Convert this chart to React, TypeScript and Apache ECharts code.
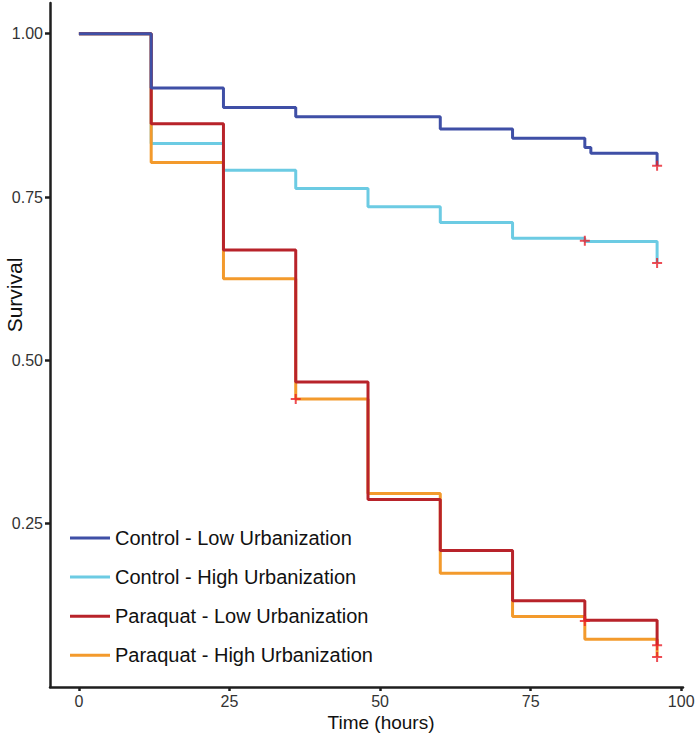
import React, { useEffect, useRef } from "react";
import * as echarts from "echarts";

const seriesNames = [
  "Control - Low Urbanization",
  "Control - High Urbanization",
  "Paraquat - Low Urbanization",
  "Paraquat - High Urbanization",
];

const controlLow = [
  [0, 1.0], [12, 0.917], [24, 0.887], [36, 0.873], [60, 0.854],
  [72, 0.84], [84, 0.826], [85, 0.817], [96, 0.798],
];
const controlHigh = [
  [0, 1.0], [12, 0.832], [24, 0.791], [36, 0.763], [48, 0.735],
  [60, 0.711], [72, 0.687], [84, 0.682], [96, 0.649],
];
const paraquatLow = [
  [0, 1.0], [12, 0.862], [24, 0.669], [36, 0.467], [48, 0.287],
  [60, 0.209], [72, 0.132], [84, 0.102], [96, 0.064],
];
const paraquatHigh = [
  [0, 1.0], [12, 0.803], [24, 0.625], [36, 0.441], [48, 0.296],
  [60, 0.174], [72, 0.108], [84, 0.073], [96, 0.046],
];
const censored = [
  [96, 0.798], [84, 0.683], [96, 0.649], [36, 0.441],
  [84, 0.101], [96, 0.064], [96, 0.046],
];

const xTicks = [0, 25, 50, 75, 100];
const yTicks = [0.25, 0.5, 0.75, 1.0];

const colors = ["#3F4FA6", "#6CCBE3", "#B8232A", "#F39A2C"];
const zOrder = [5, 2, 4, 3];
const allData = [controlLow, controlHigh, paraquatLow, paraquatHigh];

const PLUS = "path://M-1,-5H1V-1H5V1H1V5H-1V1H-5V-1H-1Z";

export default function App() {
  const ref = useRef<HTMLDivElement>(null);
  useEffect(() => {
    document.body.style.margin = "0";
    if (!ref.current) return;
    const chart = echarts.init(ref.current, null, { renderer: "svg" });
    const font = "'Liberation Sans', Arial, Helvetica, sans-serif";
    chart.setOption({
      animation: false,
      backgroundColor: "#ffffff",
      textStyle: { fontFamily: font },
      grid: {
        left: 50,
        right: 17,
        top: 3,
        bottom: 54,
        containLabel: false,
        outerBoundsMode: "none",
      },
      xAxis: {
        type: "value",
        min: -4.8,
        max: 100.3,
        axisLine: { show: true, onZero: false, lineStyle: { color: "#1e1e1e", width: 2.5 } },
        axisTick: { show: true, length: 4, lineStyle: { color: "#1e1e1e", width: 2.5 }, customValues: xTicks },
        axisLabel: { show: true, customValues: xTicks, fontSize: 16, color: "#333", margin: 6, fontFamily: font },
        splitLine: { show: false },
      },
      yAxis: {
        type: "value",
        min: 0,
        max: 1.047,
        axisLine: { show: true, onZero: false, lineStyle: { color: "#1e1e1e", width: 2.5 } },
        axisTick: { show: true, length: 5, lineStyle: { color: "#1e1e1e", width: 2.5 }, customValues: yTicks },
        axisLabel: {
          show: true,
          customValues: yTicks,
          fontSize: 16,
          color: "#333",
          margin: 7,
          fontFamily: font,
          formatter: (v: number) => v.toFixed(2),
        },
        splitLine: { show: false },
      },
      legend: {
        orient: "vertical",
        left: 65,
        top: 523,
        icon: "rect",
        itemWidth: 40,
        itemHeight: 3,
        itemGap: 19.1,
        data: seriesNames,
        textStyle: { fontSize: 20, color: "#111", fontFamily: font },
      },
      graphic: [
        {
          type: "text",
          x: 381,
          y: 722,
          style: {
            text: "Time (hours)",
            fontSize: 19,
            fill: "#111",
            fontFamily: font,
            align: "center",
            verticalAlign: "middle",
          },
        },
        {
          type: "text",
          x: 14,
          y: 295,
          rotation: Math.PI / 2,
          style: {
            text: "Survival",
            fontSize: 21,
            fill: "#111",
            fontFamily: font,
            align: "center",
            verticalAlign: "middle",
          },
        },
      ],
      series: [
        ...seriesNames.map((name, i) => ({
          name,
          type: "line",
          step: "end",
          data: allData[i],
          symbol: "none",
          z: zOrder[i],
          lineStyle: { color: colors[i], width: 3 },
          itemStyle: { color: colors[i] },
        })),
        {
          name: "censored",
          type: "scatter",
          data: censored,
          symbol: PLUS,
          symbolSize: 10,
          z: 10,
          itemStyle: { color: "#E8202A" },
        },
      ],
    });
    return () => chart.dispose();
  }, []);
  return <div ref={ref} style={{ width: 700, height: 741 }} />;
}
